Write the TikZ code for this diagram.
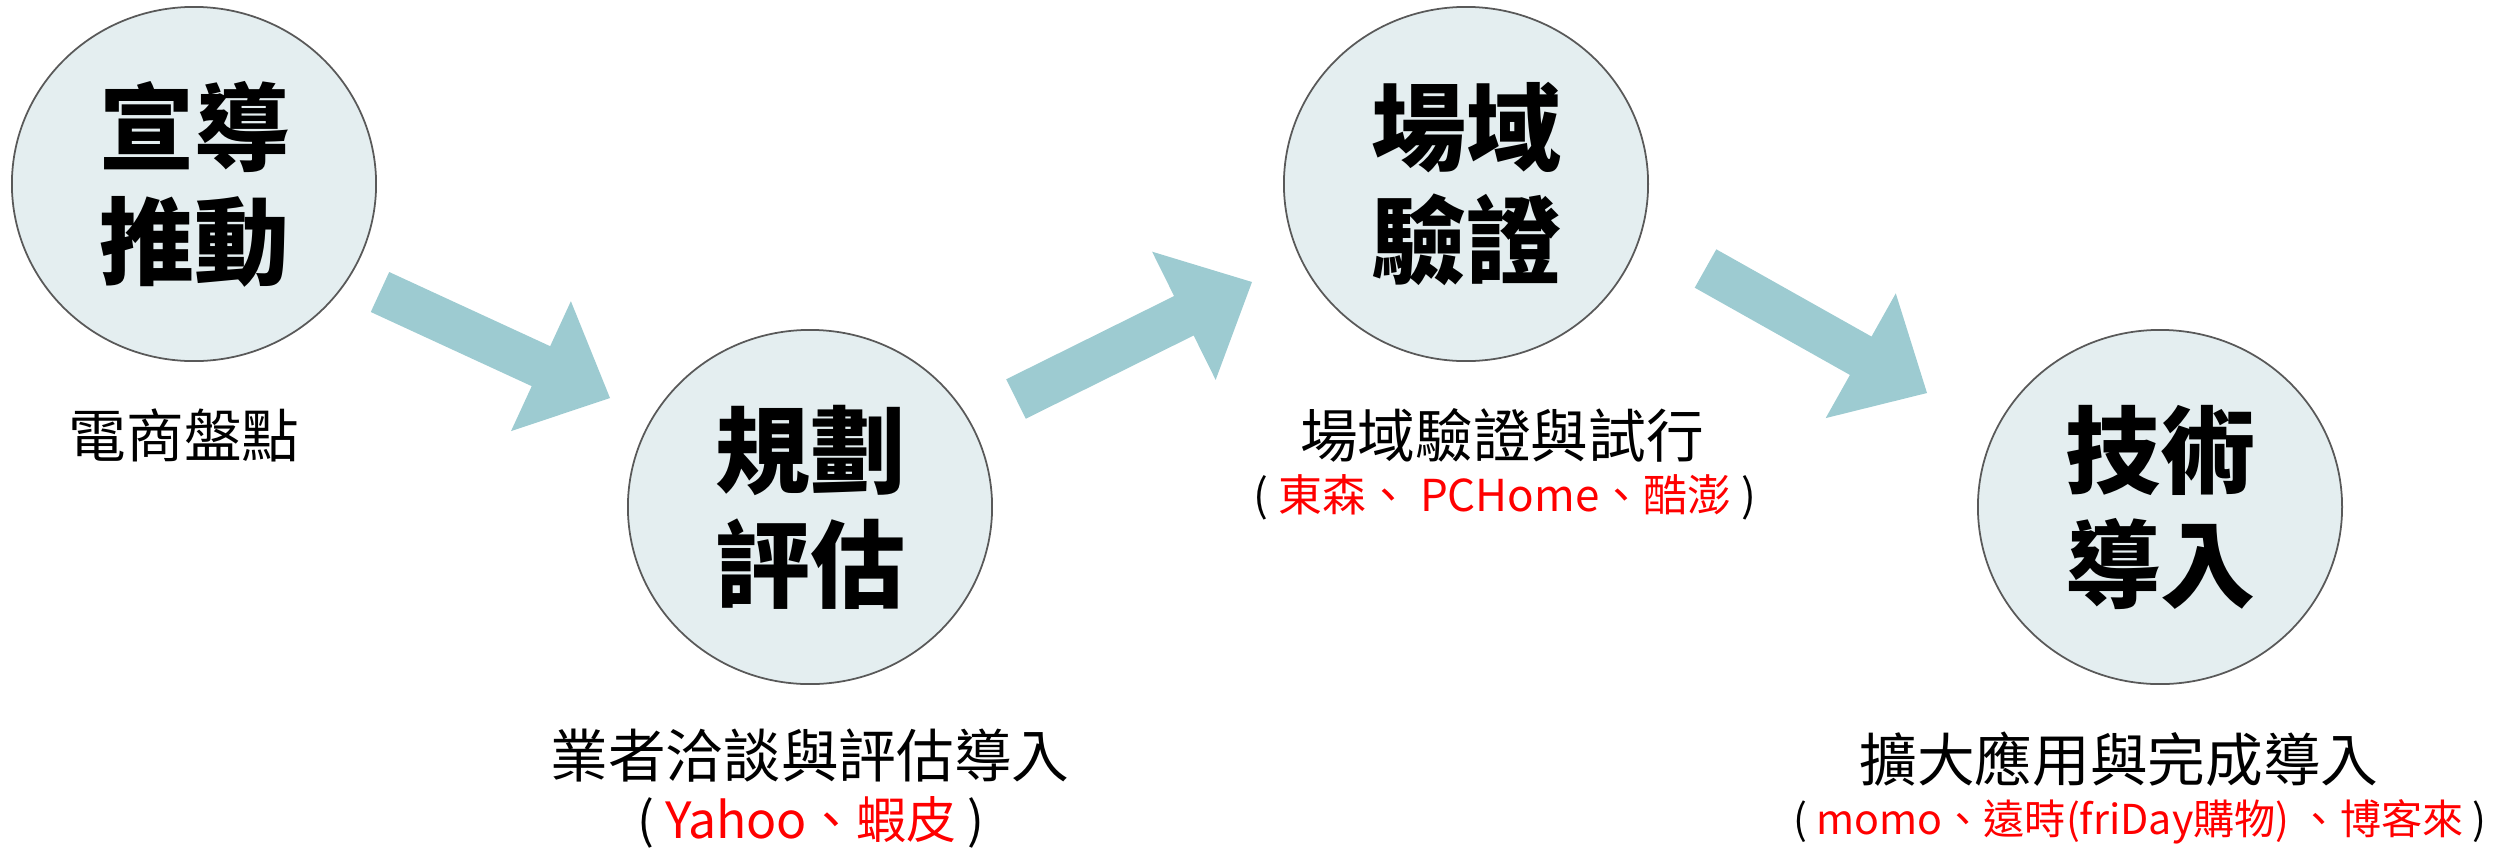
\documentclass[tikz,border=0pt]{standalone}
\usepackage{fontspec}
\newfontfamily\cjk{Noto Sans CJK TC}
\usetikzlibrary{calc, shapes.geometric}
\definecolor{stagefill}{RGB}{228,238,240}
\definecolor{stageline}{RGB}{89,89,89}
\definecolor{flowblue}{RGB}{157,203,209}
\tikzset{
  stage/.style={ellipse, draw=stageline, line width=0.5pt, fill=stagefill,
    minimum width=3.64cm, minimum height=3.54cm, inner sep=0pt, align=center,
    font=\cjk\bfseries\fontsize{27}{32.4}\selectfont},
  note/.style={inner sep=0pt, align=center, font=\cjk\fontsize{16.4}{19}\selectfont},
  shops/.style={inner sep=0pt, font=\cjk\fontsize{#1}{#1}\selectfont},
  flow/.style={fill=flowblue}
}

\begin{document}
\begin{tikzpicture}[x=0.01cm, y=-0.01cm]
\useasboundingbox (0,0) rectangle (2509,848);
% the four stages
\node[stage] (s1) at (194,184) {宣導\\推動};
\node[stage] (s2) at (810,507) {規劃\\評估};
\node[stage] (s3) at (1466,184) {場域\\驗證};
\node[stage] (s4) at (2160,507) {技術\\導入};
% notes under the stages
\node[note] (n1) at (184,435) {電商盤點};
\node[note] (n2) at (810,756) {業者洽談與評估導入};
\node[shops=14.2] (l2) at (811,822) {( \textcolor{red}{Yahoo、蝦皮} )};
\node[note] (n3) at (1502,435) {場域驗證與試行};
\node[shops=12.5] (l3) at (1505,497) {( \textcolor{red}{東森、 PCHome、酷澎} )};
\node[note] (n4) at (2119,759) {擴大應用與完成導入};
\node[shops=11.7] (l4) at (2140,822) {( \textcolor{red}{momo、遠時(friDay購物) 、博客來} )};
% block arrows
\coordinate (t1) at (380,292);    \coordinate (h1) at (610,398);
\coordinate (t2) at (1016,399);   \coordinate (h2) at (1252,282);
\coordinate (t3) at (1705.5,268.5); \coordinate (h3) at (1927,393);
\foreach \t/\h in {t1/h1, t2/h2, t3/h3}{
  \coordinate (\h-b) at ($(\h)!0.76cm!(\t)$);
  \fill[flow] ($(\t)!0.22cm!90:(\h)$) -- ($(\h-b)!0.22cm!90:(\h)$)
    -- ($(\h-b)!0.715cm!90:(\h)$) -- (\h) -- ($(\h-b)!0.715cm!-90:(\h)$)
    -- ($(\h-b)!0.22cm!-90:(\h)$) -- ($(\t)!0.22cm!-90:(\h)$) -- cycle;
}
\end{tikzpicture}
\end{document}
